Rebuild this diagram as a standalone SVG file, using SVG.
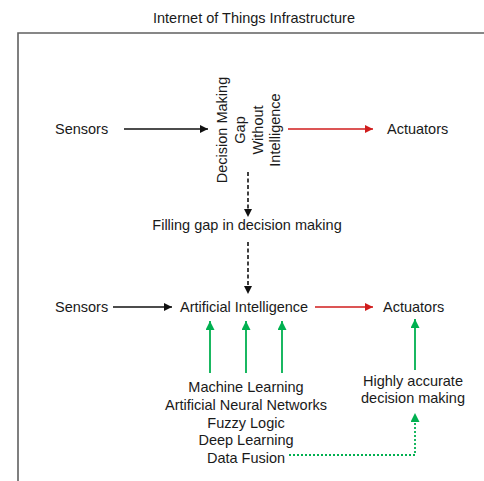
<svg xmlns="http://www.w3.org/2000/svg" width="484" height="481" viewBox="0 0 484 481">
<defs>
<style>
text{font-family:"Liberation Sans",Arial,sans-serif;font-size:14.5px;fill:#1a1a1a}
.c{text-anchor:middle}
.blk{stroke:#111;stroke-width:1.6;fill:none}
.red{stroke:#d01c1c;stroke-width:1.6;fill:none}
.grn{stroke:#00b050;stroke-width:1.8;fill:none}
.dash{stroke-dasharray:4 2.5}
.dot{stroke-dasharray:2 2}
</style>
<marker id="ab" viewBox="0 0 10 10" refX="10" refY="5" markerWidth="8" markerHeight="8" markerUnits="userSpaceOnUse" orient="auto"><path d="M0,0L10,5L0,10z" fill="#111"/></marker>
<marker id="ar" viewBox="0 0 10 10" refX="10" refY="5" markerWidth="8" markerHeight="8" markerUnits="userSpaceOnUse" orient="auto"><path d="M0,0L10,5L0,10z" fill="#d01c1c"/></marker>
<marker id="ag" viewBox="0 0 10 10" refX="10" refY="5" markerWidth="9" markerHeight="9" markerUnits="userSpaceOnUse" orient="auto"><path d="M0,0L10,5L0,10z" fill="#00b050"/></marker>
</defs>
<rect width="484" height="481" fill="#fff"/>
<g id="title"><text class="c" x="254" y="23">Internet of Things Infrastructure</text></g>
<g id="frame"><path d="M18,481V33H484" stroke="#606060" stroke-width="1.6" fill="none"/></g>
<g id="connectors">
<line class="blk" x1="124" y1="129" x2="208" y2="129" marker-end="url(#ab)"/>
<line class="red" x1="288" y1="129" x2="373" y2="129" marker-end="url(#ar)"/>
<line class="blk dash" x1="248" y1="172" x2="248" y2="217" marker-end="url(#ab)"/>
<line class="blk dash" x1="248" y1="242" x2="248" y2="294" marker-end="url(#ab)"/>
<line class="blk" x1="113" y1="307" x2="172" y2="307" marker-end="url(#ab)"/>
<line class="red" x1="315" y1="307" x2="373" y2="307" marker-end="url(#ar)"/>
<line class="grn" x1="210" y1="373" x2="210" y2="321" marker-end="url(#ag)"/>
<line class="grn" x1="246" y1="373" x2="246" y2="321" marker-end="url(#ag)"/>
<line class="grn" x1="282" y1="373" x2="282" y2="321" marker-end="url(#ag)"/>
<line class="grn" x1="415" y1="370" x2="415" y2="319" marker-end="url(#ag)"/>
<path class="grn dot" d="M289,455H415V413" marker-end="url(#ag)"/>
</g>
<g id="sensors1"><text x="55" y="134">Sensors</text></g>
<g id="gap"><text class="c" transform="translate(0,130) rotate(-90)"><tspan x="0" y="227">Decision Making</tspan><tspan x="0" y="245">Gap</tspan><tspan x="0" y="262.5">Without</tspan><tspan x="0" y="280">Intelligence</tspan></text></g>
<g id="actuators1"><text x="387" y="134">Actuators</text></g>
<g id="filling"><text class="c" x="247" y="230">Filling gap in decision making</text></g>
<g id="sensors2"><text x="55" y="312">Sensors</text></g>
<g id="ai"><text x="180" y="312">Artificial Intelligence</text></g>
<g id="actuators2"><text x="383" y="312">Actuators</text></g>
<g id="methods"><text class="c"><tspan x="246" y="392">Machine Learning</tspan><tspan x="246" y="410">Artificial Neural Networks</tspan><tspan x="246" y="427.5">Fuzzy Logic</tspan><tspan x="246" y="445">Deep Learning</tspan><tspan x="246" y="462.5">Data Fusion</tspan></text></g>
<g id="accurate"><text class="c"><tspan x="413" y="386">Highly accurate</tspan><tspan x="413" y="403">decision making</tspan></text></g>
</svg>
